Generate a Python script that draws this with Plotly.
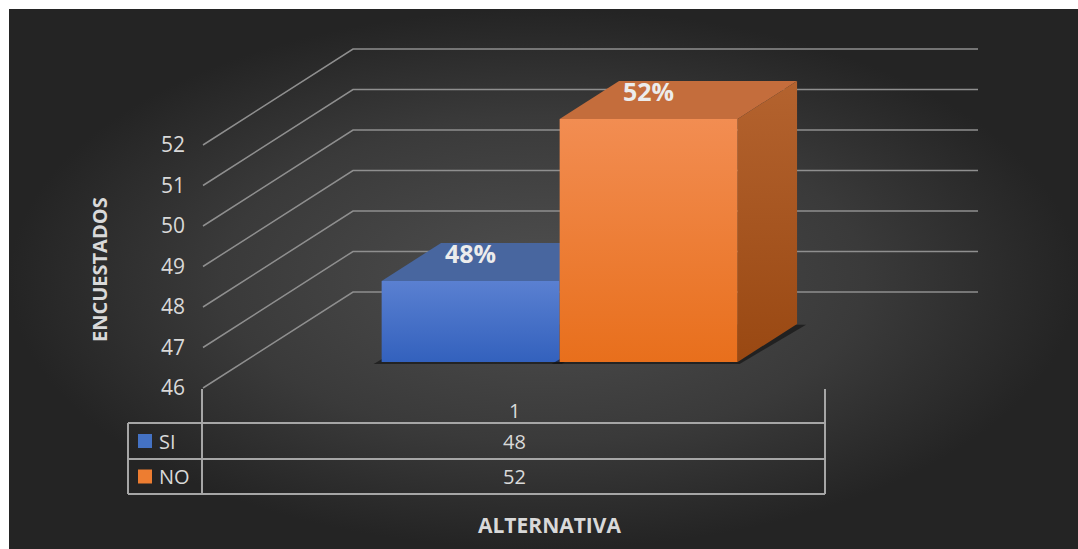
import plotly.graph_objects as go

# ---- data ----
categories = ["1"]
series_names = ["SI", "NO"]
series_values = [48, 52]
y_ticks = [46, 47, 48, 49, 50, 51, 52]
x_title = "ALTERNATIVA"
y_title = "ENCUESTADOS"

# ---- colours ----
front_scales = [
    [[0, "#3361bd"], [1, "#5a80d1"]],
    [[0, "#e86f1c"], [1, "#f28d52"]],
]
top_colors = ["#48669f", "#c46d3c"]
side_scales = [
    [[0, "#2a4f99"], [1, "#3a5ea8"]],
    [[0, "#994812"], [1, "#b4632f"]],
]
legend_colors = ["#4472c4", "#ed7d31"]
text_color = "#d9d9d9"
grid_color = "#8f8f8f"
table_color = "#a6a6a6"
FONT = "Open Sans"

# ---- oblique projection (x in canvas units, y in value units) ----
W, H = 1078, 549
V_BASE = 46                # floor value
PX_PER_UNIT = 40.5
BASE_PY = 388              # pixel row of the floor at the front wall
DEPTH_DX = 150
DEPTH_DV = 96 / PX_PER_UNIT
WALL_X = 203
BACK_RIGHT_X = 978
D_FRONT, D_BACK = 0.271, 0.667
BAR_W = 178
CAT_CENTER_X = 519


def py_to_v(py):
    return V_BASE + (BASE_PY - py) / PX_PER_UNIT


def proj(x, v, d):
    return x + d * DEPTH_DX, v + d * DEPTH_DV


fig = go.Figure()

# panel background with a soft radial shading
bx0, bx1 = 9, W
by0, by1 = py_to_v(9), py_to_v(H)
fig.add_trace(go.Scatter(
    x=[bx0, bx1, bx1, bx0, bx0], y=[by0, by0, by1, by1, by0],
    fill="toself", mode="none", hoverinfo="skip",
    fillgradient=dict(type="radial",
                      colorscale=[[0, "#4f4f4f"], [0.6, "#3a3a3a"], [1, "#242424"]]),
))

# gridlines: left wall diagonal + back wall horizontal
for v in y_ticks:
    x0, y0 = proj(WALL_X, v, 0)
    x1, y1 = proj(WALL_X, v, 1)
    fig.add_trace(go.Scatter(
        x=[x0, x1, BACK_RIGHT_X], y=[y0, y1, y1], mode="lines",
        line=dict(color=grid_color, width=1.5), hoverinfo="skip"))

# bars
n = len(series_values)
group_left = CAT_CENTER_X - n * BAR_W / 2
for i, (name, val) in enumerate(zip(series_names, series_values)):
    xl = group_left + i * BAR_W
    xr = xl + BAR_W
    # soft shadow on the floor
    s = [proj(xl - 8, V_BASE - 0.05, D_FRONT), proj(xr + 2, V_BASE - 0.05, D_FRONT),
         proj(xr + 9, V_BASE - 0.02, D_BACK), proj(xl, V_BASE, D_BACK)]
    fig.add_trace(go.Scatter(x=[p[0] for p in s + s[:1]], y=[p[1] for p in s + s[:1]],
                             fill="toself", mode="none",
                             fillcolor="rgba(15,15,15,0.6)", hoverinfo="skip"))
    # front face
    fx = [proj(xl, V_BASE, D_FRONT), proj(xr, V_BASE, D_FRONT),
          proj(xr, val, D_FRONT), proj(xl, val, D_FRONT)]
    fig.add_trace(go.Scatter(
        x=[p[0] for p in fx + fx[:1]], y=[p[1] for p in fx + fx[:1]],
        fill="toself", mode="none", hoverinfo="skip",
        fillgradient=dict(type="vertical", colorscale=front_scales[i])))
    # top face
    tp = [proj(xl, val, D_FRONT), proj(xr, val, D_FRONT),
          proj(xr, val, D_BACK), proj(xl, val, D_BACK)]
    fig.add_trace(go.Scatter(
        x=[p[0] for p in tp + tp[:1]], y=[p[1] for p in tp + tp[:1]],
        fill="toself", mode="none", fillcolor=top_colors[i], hoverinfo="skip"))
    # right face
    rp = [proj(xr, V_BASE, D_FRONT), proj(xr, V_BASE, D_BACK),
          proj(xr, val, D_BACK), proj(xr, val, D_FRONT)]
    fig.add_trace(go.Scatter(
        x=[p[0] for p in rp + rp[:1]], y=[p[1] for p in rp + rp[:1]],
        fill="toself", mode="none", hoverinfo="skip",
        fillgradient=dict(type="vertical", colorscale=side_scales[i])))

# percentage labels on the bar tops
total = sum(series_values)
for i, val in enumerate(series_values):
    xl = group_left + i * BAR_W
    cx, cy = proj(xl + BAR_W / 2, val, D_FRONT)
    fig.add_annotation(x=cx, y=cy + 0.7, text=f"<b>{round(val / total * 100)}%</b>",
                       showarrow=False, font=dict(family=FONT, size=25, color="#ececec"))

# data table below the plot
tbl_left, tbl_div, tbl_right = 128, 202, 825
rows_py = [423, 459, 494]
top_py = 389
seg_x, seg_y = [], []
for x in (tbl_div, tbl_right):
    seg_x += [x, x, None]
    seg_y += [py_to_v(top_py), py_to_v(rows_py[-1]), None]
seg_x += [tbl_left, tbl_left, None]
seg_y += [py_to_v(rows_py[0]), py_to_v(rows_py[-1]), None]
for py in rows_py:
    seg_x += [tbl_left, tbl_right, None]
    seg_y += [py_to_v(py), py_to_v(py), None]
fig.add_trace(go.Scatter(x=seg_x, y=seg_y, mode="lines",
                         line=dict(color=table_color, width=2), hoverinfo="skip"))

mid_x = (tbl_div + tbl_right) / 2 + 1
fig.add_annotation(x=mid_x, y=py_to_v(410), text=categories[0],
                   showarrow=False, font=dict(family=FONT, size=20, color=text_color))
for i, (name, val) in enumerate(zip(series_names, series_values)):
    row_mid = py_to_v((rows_py[i] + rows_py[i + 1]) / 2)
    fig.add_annotation(x=mid_x, y=row_mid, text=str(val), showarrow=False,
                       font=dict(family=FONT, size=20, color=text_color))
    fig.add_annotation(x=157, y=row_mid, text=name, showarrow=False, xanchor="left",
                       font=dict(family=FONT, size=20, color=text_color))
    fig.add_trace(go.Scatter(x=[145], y=[row_mid], mode="markers", hoverinfo="skip",
                             marker=dict(symbol="square", size=14, color=legend_colors[i],
                                         line=dict(width=0))))

# axis titles
fig.add_annotation(x=549, y=py_to_v(525), text=f"<b>{x_title}</b>", showarrow=False,
                   font=dict(family=FONT, size=21, color=text_color))
fig.add_annotation(x=99, y=py_to_v(270), text=f"<b>{y_title}</b>", showarrow=False,
                   textangle=-90, font=dict(family=FONT, size=20, color=text_color))

fig.update_layout(
    width=W, height=H, autosize=False,
    margin=dict(l=0, r=0, t=0, b=0),
    paper_bgcolor="white", plot_bgcolor="white",
    showlegend=False,
    xaxis=dict(range=[0, W], visible=False, fixedrange=True),
    yaxis=dict(range=[py_to_v(H), py_to_v(0)], anchor="free", position=185 / W,
               tickvals=y_ticks, showgrid=False, zeroline=False, showline=False,
               ticks="", tickfont=dict(family=FONT, size=21, color=text_color),
               fixedrange=True),
)

fig.write_html("out.html")
